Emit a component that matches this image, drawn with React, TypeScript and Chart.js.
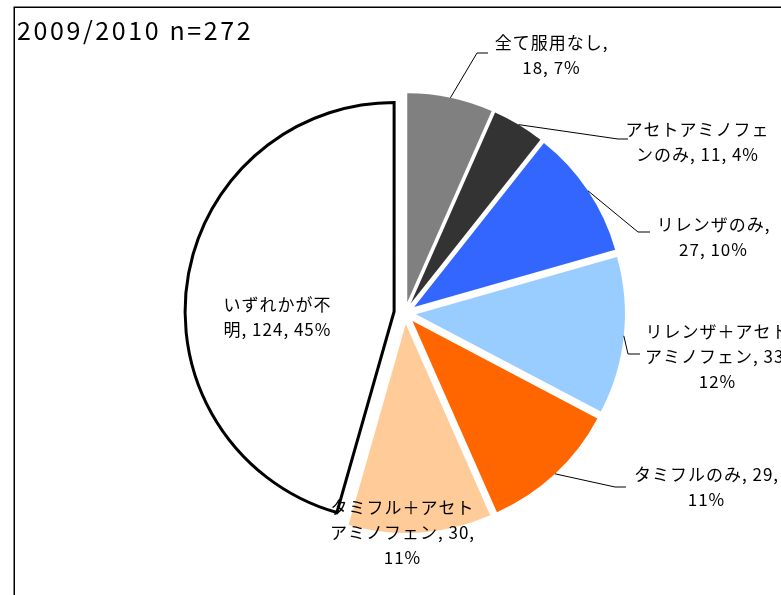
import React, { useEffect, useRef } from 'react';
import { Chart, registerables, ArcElement } from 'chart.js';

Chart.register(...registerables);

// ---- data ----
const title = '2009/2010 n=272';
const categories = [
  '全て服用なし',
  'アセトアミノフェンのみ',
  'リレンザのみ',
  'リレンザ＋アセトアミノフェン',
  'タミフルのみ',
  'タミフル＋アセトアミノフェン',
  'いずれかが不明',
];
const counts = [18, 11, 27, 33, 29, 30, 124];
const percents = [7, 4, 10, 12, 11, 11, 45];
const colors = ['#808080', '#333333', '#3366FF', '#99CCFF', '#FF6600', '#FFCC99', '#FFFFFF'];
const borderColors = ['#FFFFFF', '#FFFFFF', '#FFFFFF', '#FFFFFF', '#FFFFFF', '#FFFFFF', '#000000'];
const borderWidths = [0, 0, 0, 0, 0, 0, 3];
// where each label's text wraps (character indices)
const labelBreaks = [[7], [8], [7], [8, 19], [11], [8, 19], [6]];

// ---- layout (positions of labels / leader elbows) ----
const LABEL_POS: [number, number][] = [
  [551, 43], [697, 130], [713, 225], [717, 332], [706, 475], [402, 508], [277, 305],
];
const LINE_H = 25;
const LEADERS: ([number, number][] | null)[] = [
  [[477, 53], [488, 53]],
  [[618, 139], [628, 139]],
  [[638, 232], [650, 232]],
  [[628, 354], [640, 354]],
  [[615, 487], [626, 487]],
  null,
  null,
];
const EXPLODE = 11;
const RADIUS = 209;
const LABEL_FONT = '17px "Noto Sans CJK JP", "Noto Sans", sans-serif';
const TITLE_FONT = '25px "Noto Sans CJK JP", "Noto Sans", sans-serif';

// Exploded pie slices: translate along the bisector without growing the radius
(ArcElement.prototype as any).draw = function (ctx: CanvasRenderingContext2D) {
  const { x, y, startAngle, endAngle, outerRadius, circumference } = this.getProps([
    'x', 'y', 'startAngle', 'endAngle', 'outerRadius', 'circumference',
  ]);
  if (!circumference || outerRadius <= 0) return;
  const o = this.options;
  const mid = (startAngle + endAngle) / 2;
  const off = o.offset || 0;
  ctx.save();
  ctx.translate(Math.cos(mid) * off, Math.sin(mid) * off);
  ctx.beginPath();
  ctx.moveTo(x, y);
  ctx.arc(x, y, outerRadius, startAngle, endAngle);
  ctx.closePath();
  ctx.fillStyle = o.backgroundColor;
  ctx.fill();
  if (o.borderWidth) {
    ctx.lineWidth = o.borderWidth;
    ctx.strokeStyle = o.borderColor;
    ctx.lineJoin = 'miter';
    ctx.stroke();
  }
  ctx.restore();
};

function splitLabel(text: string, breaks: number[]): string[] {
  const out: string[] = [];
  let prev = 0;
  for (const b of breaks) {
    out.push(text.slice(prev, b).trim());
    prev = b;
  }
  out.push(text.slice(prev).trim());
  return out;
}

const labelPlugin = {
  id: 'excelPieLabels',
  beforeDraw(chart: any) {
    const ctx: CanvasRenderingContext2D = chart.ctx;
    ctx.save();
    ctx.fillStyle = '#ffffff';
    ctx.fillRect(0, 0, chart.width, chart.height);
    ctx.strokeStyle = '#000000';
    ctx.lineWidth = 1.5;
    ctx.strokeRect(14.25, 7.25, 2000, 2000);
    ctx.fillStyle = '#000000';
    ctx.font = TITLE_FONT;
    (ctx as any).letterSpacing = '2.6px';
    ctx.textAlign = 'left';
    ctx.textBaseline = 'middle';
    ctx.fillText(title, 17, 30);
    ctx.restore();
  },
  afterDatasetsDraw(chart: any) {
    const ctx: CanvasRenderingContext2D = chart.ctx;
    const meta = chart.getDatasetMeta(0);
    ctx.save();
    meta.data.forEach((arc: any, i: number) => {
      const { x, y, startAngle, endAngle, outerRadius } = arc.getProps([
        'x', 'y', 'startAngle', 'endAngle', 'outerRadius',
      ]);
      const mid = (startAngle + endAngle) / 2;
      const off = arc.options.offset || 0;
      const ex = x + Math.cos(mid) * (off + outerRadius);
      const ey = y + Math.sin(mid) * (off + outerRadius);
      const leader = LEADERS[i];
      if (leader) {
        ctx.beginPath();
        ctx.moveTo(ex, ey);
        leader.forEach((p) => ctx.lineTo(p[0], p[1]));
        ctx.strokeStyle = '#000000';
        ctx.lineWidth = 1;
        ctx.stroke();
      }
      const text = `${categories[i]}, ${counts[i]}, ${percents[i]}%`;
      const lines = splitLabel(text, labelBreaks[i]);
      ctx.font = LABEL_FONT;
      (ctx as any).letterSpacing = '1px';
      ctx.fillStyle = '#000000';
      ctx.textAlign = 'center';
      ctx.textBaseline = 'middle';
      const [cx, cy] = LABEL_POS[i];
      lines.forEach((ln, k) => ctx.fillText(ln, cx + 0.5, cy + k * LINE_H));
    });
    ctx.restore();
  },
};

export default function App() {
  const ref = useRef<HTMLCanvasElement | null>(null);
  useEffect(() => {
    if (!ref.current) return;
    const chart = new Chart(ref.current, {
      type: 'pie',
      data: {
        labels: categories,
        datasets: [
          {
            data: counts,
            backgroundColor: colors,
            borderColor: borderColors,
            borderWidth: borderWidths,
            offset: EXPLODE,
            radius: RADIUS,
          } as any,
        ],
      },
      options: {
        responsive: false,
        maintainAspectRatio: false,
        devicePixelRatio: 1,
        animation: false,
        events: [],
        layout: { padding: { left: 29, top: 31, right: 0, bottom: 0 } },
        plugins: {
          legend: { display: false },
          tooltip: { enabled: false },
          title: { display: false },
        },
      },
      plugins: [labelPlugin],
    });
    return () => chart.destroy();
  }, []);
  return (
    <div
      style={{
        position: 'fixed',
        left: 0,
        top: 0,
        width: 781,
        height: 595,
        overflow: 'hidden',
        background: '#fff',
      }}
    >
      <canvas ref={ref} width={781} height={595} style={{ display: 'block' }} />
    </div>
  );
}
